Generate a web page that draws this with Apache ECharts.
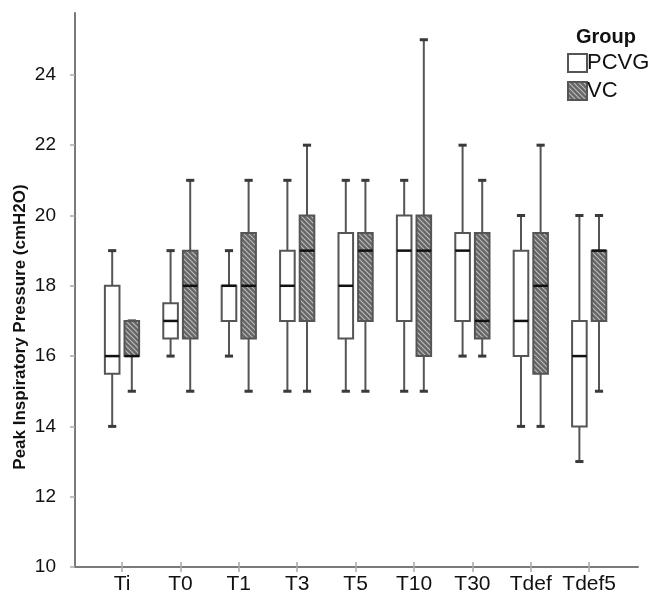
<!DOCTYPE html>
<html><head><meta charset="utf-8">
<script src="https://cdn.jsdelivr.net/npm/echarts@6/dist/echarts.min.js"></script>
<style>html,body{margin:0;padding:0;background:#fff}#c{width:653px;height:596px}</style>
</head><body><div id="c"></div>
<script>
const categories = ['Ti','T0','T1','T3','T5','T10','T30','Tdef','Tdef5'];
// each entry: [min, Q1, median, Q3, max]
const pcvg = [[14,15.5,16,18,19],[16,16.5,17,17.5,19],[16,17,18,18,19],[15,17,18,19,21],[15,16.5,18,19.5,21],[15,17,19,20,21],[16,17,19,19.5,22],[14,16,17,19,20],[13,14,16,17,20]];
const vc = [[15,16,16,17,17],[15,16.5,18,19,21],[15,16.5,18,19.5,21],[15,17,19,20,22],[15,17,19,19.5,21],[15,16,19,20,25],[16,16.5,17,19.5,21],[14,15.5,18,19.5,22],[15,17,19,19,20]];
const groups = ['PCVG','VC'];
const yMin = 10, yMax = 25.76, yStep = 2;

function hatch(){
  const s = 5, c = document.createElement('canvas');
  c.width = s; c.height = s;
  const g = c.getContext('2d');
  g.fillStyle = '#666'; g.fillRect(0,0,s,s);
  g.strokeStyle = '#bdbdbd'; g.lineWidth = 1.1;
  g.beginPath();
  g.moveTo(-1,-1); g.lineTo(s+1,s+1);
  g.moveTo(-1,s-1); g.lineTo(1,s+1);
  g.moveTo(s-1,-1); g.lineTo(s+1,1);
  g.stroke();
  return c;
}
const hatchFill = {image: hatch(), repeat: 'repeat'};

function makeRender(sign, fill){
  return function(params, api){
    const i = api.value(0);
    const bw = api.size([1,0])[0];
    const cx = api.coord([i, api.value(3)])[0] + sign*bw*0.168;
    const y = k => api.coord([i, api.value(k)])[1];
    const yLo = y(1), yQ1 = y(2), yMed = y(3), yQ3 = y(4), yHi = y(5);
    const w = bw*0.25, cap = bw*0.14;
    const ln = (x1,y1,x2,y2,st) => ({type:'line', shape:{x1,y1,x2,y2}, style:st});
    const ws = {stroke:'#555', lineWidth:2};
    const cs = {stroke:'#3a3a3a', lineWidth:3};
    return {type:'group', children:[
      ln(cx,yHi,cx,yQ3,ws), ln(cx,yQ1,cx,yLo,ws),
      ln(cx-cap/2,yHi,cx+cap/2,yHi,cs), ln(cx-cap/2,yLo,cx+cap/2,yLo,cs),
      {type:'rect', shape:{x:cx-w/2, y:yQ3, width:w, height:yQ1-yQ3}, style:{fill:fill, stroke:'#555', lineWidth:2}},
      ln(cx-w/2,yMed,cx+w/2,yMed,{stroke:'#111', lineWidth:2.5})
    ]};
  };
}

const chart = echarts.init(document.getElementById('c'), null, {renderer:'canvas'});
const yBase = {type:'value', min:yMin, max:yMax, interval:yStep};
chart.setOption({
  animation:false,
  backgroundColor:'#fff',
  title:{text:'Group', left:576, top:27, padding:0, textStyle:{fontFamily:'Liberation Sans', fontSize:20, fontWeight:'bold', color:'#111'}},
  legend:{
    orient:'vertical', left:567, top:52, padding:0, itemGap:6, itemWidth:19, itemHeight:18,
    icon:'rect',
    textStyle:{fontFamily:'Liberation Sans', fontSize:22, color:'#111', padding:[0,0,0,-5]},
    data:[
      {name:groups[0], itemStyle:{color:'#fff', borderColor:'#555', borderWidth:2}},
      {name:groups[1], itemStyle:{color:hatchFill, borderColor:'#555', borderWidth:2}}
    ]
  },
  grid:[
    {left:75, right:15, top:13, bottom:29},
    {left:92.8, right:34.6, top:13, bottom:29},
    {left:75, right:15, top:87, bottom:29}
  ],
  xAxis:[
    {gridIndex:0, type:'value', min:0, max:1, axisLine:{show:true, lineStyle:{color:'#7a7a7a', width:2}}, axisTick:{show:false}, axisLabel:{show:false}, splitLine:{show:false}},
    {gridIndex:1, type:'category', data:categories, offset:-5, axisLine:{show:false},
      axisTick:{show:true, alignWithLabel:true, interval:0, length:10, lineStyle:{color:'#aaa', width:1.5}},
      axisLabel:{interval:0, margin:12, fontFamily:'Liberation Sans', fontSize:21, color:'#111'}, splitLine:{show:false}},
    {gridIndex:2, type:'value', show:false}
  ],
  yAxis:[
    Object.assign({gridIndex:0}, yBase, {
      axisLine:{show:true, lineStyle:{color:'#7a7a7a', width:2}},
      axisTick:{show:true, length:5, lineStyle:{color:'#aaa', width:1.5}},
      axisLabel:{margin:19, fontFamily:'Liberation Sans', fontSize:19, color:'#111', showMaxLabel:false,
        formatter: v => (Math.abs(v - Math.round(v)) < 1e-6 ? String(v) : '')},
      splitLine:{show:false}
    }),
    Object.assign({gridIndex:1}, yBase, {show:false}),
    {gridIndex:2, type:'value', min:0, max:1, name:'Peak Inspiratory Pressure (cmH2O)', nameLocation:'middle', nameGap:46,
      nameTextStyle:{fontFamily:'Liberation Sans', fontSize:17, fontWeight:'bold', color:'#111'},
      axisLine:{show:false}, axisTick:{show:false}, axisLabel:{show:false}, splitLine:{show:false}}
  ],
  series:[
    {name:groups[0], type:'custom', xAxisIndex:1, yAxisIndex:1, itemStyle:{color:'#fff'},
      renderItem:makeRender(-1,'#fff'), encode:{x:0, y:[1,2,3,4,5]},
      data:pcvg.map((d,i)=>[i].concat(d))},
    {name:groups[1], type:'custom', xAxisIndex:1, yAxisIndex:1, itemStyle:{color:'#777'},
      renderItem:makeRender(1,hatchFill), encode:{x:0, y:[1,2,3,4,5]},
      data:vc.map((d,i)=>[i].concat(d))}
  ]
});
</script></body></html>
